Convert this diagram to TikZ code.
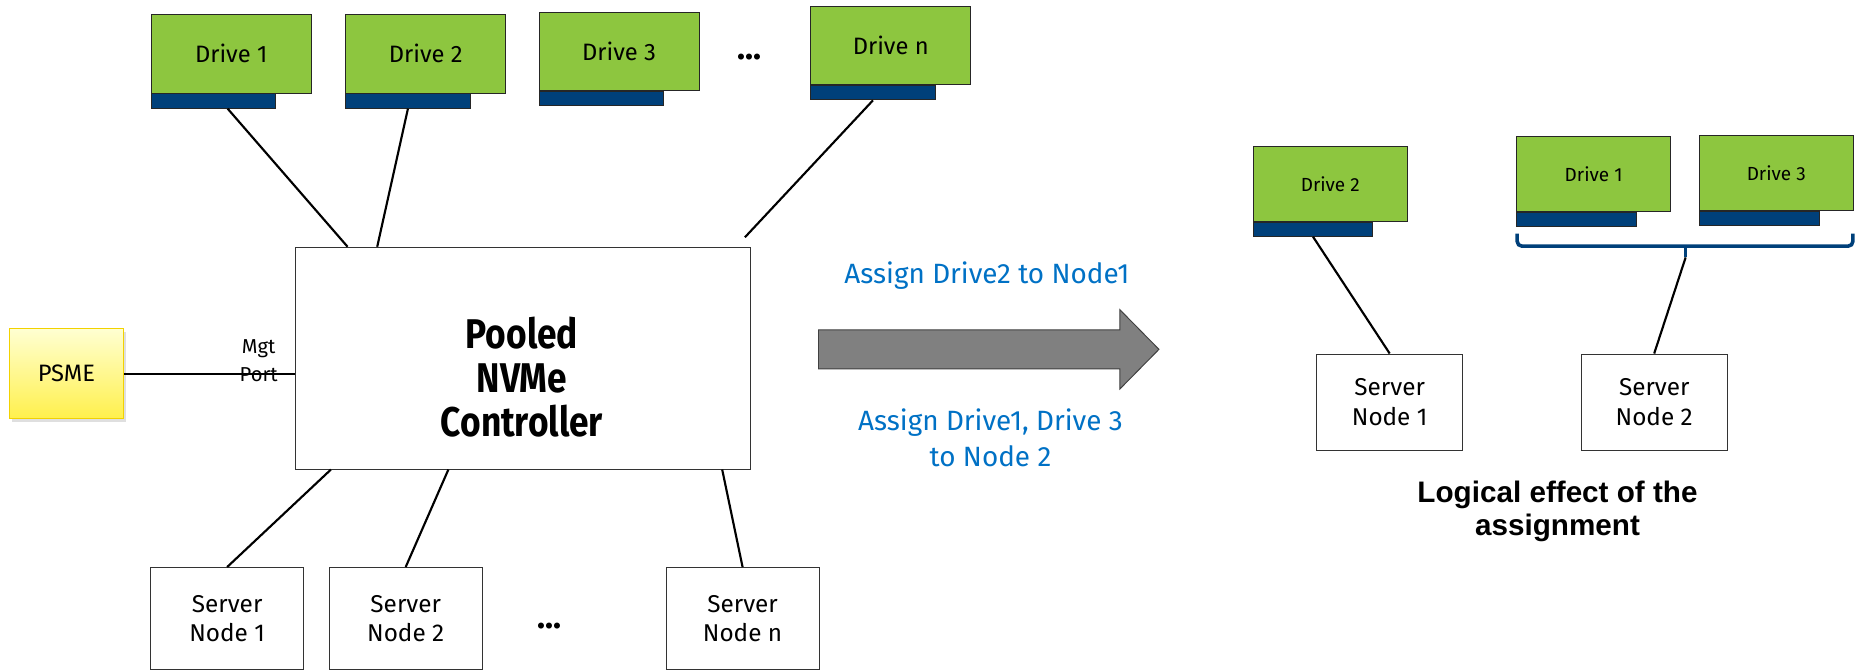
\documentclass[tikz,border=0pt]{standalone}
\usepackage{fontspec}
\usetikzlibrary{calc,shadows}
\newfontfamily\condfont{Fira Sans}
\newfontfamily\ctlfont{Fira Sans}[FakeStretch=0.85]
\newfontfamily\headfont{Liberation Sans}
\definecolor{drivegreen}{HTML}{8DC63F}
\definecolor{drivebarblue}{HTML}{00407A}
\definecolor{assignblue}{HTML}{0071C5}
\definecolor{arrowgray}{HTML}{808080}
\definecolor{psmetop}{HTML}{FFFFD2}
\definecolor{psmebottom}{HTML}{FFF04C}
\definecolor{psmeedge}{HTML}{F2D200}
\tikzset{
  drivebox/.style={draw=black!85, line width=0.8pt, fill=drivegreen, inner sep=0pt,
    anchor=north west, font=\condfont\fontsize{20}{22}\selectfont},
  bigdrive/.style={drivebox, minimum width=135pt, minimum height=66pt},
  smalldrive/.style={drivebox, minimum width=130pt, minimum height=63pt,
    font=\condfont\fontsize{16}{18}\selectfont},
  drivebar/.style={draw=black!85, line width=0.8pt, fill=drivebarblue, inner sep=0pt,
    anchor=north west, minimum height=12pt},
  link/.style={line width=1.8pt, black},
  serverbox/.style={draw=black!80, line width=0.8pt, fill=white, align=center,
    inner sep=0pt, font=\condfont\fontsize{20.5}{25}\selectfont},
  dotsmark/.style={font=\condfont\bfseries\fontsize{28}{28}\selectfont},
  assigntext/.style={text=assignblue, align=center, font=\condfont\fontsize{23.5}{30}\selectfont},
}
\begin{document}
\begin{tikzpicture}[x=1pt,y=-1pt]
\useasboundingbox (0,0) rectangle (1568,565);

% ---- drives above the controller
\node[bigdrive] (d1) at (127,12) {Drive 1};
\node[drivebar, minimum width=105pt] (d1b) at (d1.south west) {};
\node[bigdrive] (d2) at (291,12) {Drive 2};
\node[drivebar, minimum width=105pt] (d2b) at (d2.south west) {};
\node[bigdrive] (d3) at (454,10) {Drive 3};
\node[drivebar, minimum width=105pt] (d3b) at (d3.south west) {};
\node[dotsmark] (dtop) at (632,48) {...};
\node[bigdrive] (dn) at (683,5) {Drive n};
\node[drivebar, minimum width=105pt] (dnb) at (dn.south west) {};

% ---- controller and management
\node[draw=black!80, line width=0.8pt, fill=white, minimum width=383pt, minimum height=187pt,
      anchor=north west, inner sep=0pt] (ctl) at (249,208) {};
\node[font=\ctlfont\bfseries\fontsize{35}{37}\selectfont, align=center] (ctllabel) at (440,318)
  {Pooled\\NVMe\\Controller};
\node[draw=psmeedge, line width=1.2pt, top color=psmetop, bottom color=psmebottom,
      minimum width=96pt, minimum height=76pt, inner sep=0pt,
      drop shadow={shadow xshift=2pt, shadow yshift=-3pt, opacity=0.25},
      font=\condfont\fontsize{20}{22}\selectfont] (psme) at (56,315) {PSME};
\draw[link] (psme.east) -- (psme.east -| ctl.west);
\node[font=\condfont\fontsize{17}{24}\selectfont, align=center] (mgt) at (218,304) {Mgt\\Port};

% ---- server nodes below the controller
\node[serverbox, minimum width=129pt, minimum height=86pt, anchor=north] (s1) at (191.5,478) {Server\\Node 1};
\node[serverbox, minimum width=129pt, minimum height=86pt, anchor=north] (s2) at (342,478) {Server\\Node 2};
\node[dotsmark] (dbot) at (463,528) {...};
\node[serverbox, minimum width=129pt, minimum height=86pt, anchor=north] (sn) at (626,478) {Server\\Node n};

% ---- links of the pooled controller
\coordinate (dnend) at (628,200);
\draw[link] ([xshift=12pt]d1b.south) -- ([xshift=44pt]ctl.north west);
\draw[link] (d2b.south) -- ([xshift=69pt]ctl.north west);
\draw[link] (dnb.south) -- (dnend);
\draw[link] ([xshift=30pt]ctl.south west) -- (s1.north);
\draw[link] ([xshift=129pt]ctl.south west) -- (s2.north);
\draw[link] ([xshift=-24pt]ctl.south east) -- (sn.north);

% ---- assignment arrow
\draw[fill=arrowgray, draw=black!75, line width=0.8pt]
  (690,278) -- (944,278) -- (944,261) -- (977,294.5) -- (944,328) -- (944,311) -- (690,311) -- cycle;
\node[assigntext] (asg1) at (832,232) {Assign Drive2 to Node1};
\node[assigntext] (asg2) at (835,369) {Assign Drive1, Drive 3\\to Node 2};

% ---- logical view after the assignment
\node[smalldrive] (r2) at (1056,123) {Drive 2};
\node[drivebar, minimum width=101pt] (r2b) at (r2.south west) {};
\node[smalldrive] (r1) at (1278,115) {Drive 1};
\node[drivebar, minimum width=101pt] (r1b) at (r1.south west) {};
\node[smalldrive] (r3) at (1432,114) {Drive 3};
\node[drivebar, minimum width=101pt] (r3b) at (r3.south west) {};

\node[serverbox, minimum width=123pt, minimum height=81pt, anchor=north] (q1) at (1171.5,298) {Server\\Node 1};
\node[serverbox, minimum width=123pt, minimum height=81pt, anchor=north] (q2) at (1394.5,298) {Server\\Node 2};

\draw[drivebarblue, line width=3pt, rounded corners=4pt]
  (1279,197) -- (1279,207.5) -- (1562,207.5) -- (1562,197);
\draw[drivebarblue, line width=3pt] (1421,207.5) -- (1421,217) coordinate (brtip);

\draw[link] (r2b.south) -- (q1.north);
\draw[link] (brtip) -- (q2.north);

\node[font=\headfont\bfseries\fontsize{25}{28}\selectfont, align=center] (logical) at (1313,431)
  {Logical effect of the\\assignment};
\end{tikzpicture}
\end{document}
